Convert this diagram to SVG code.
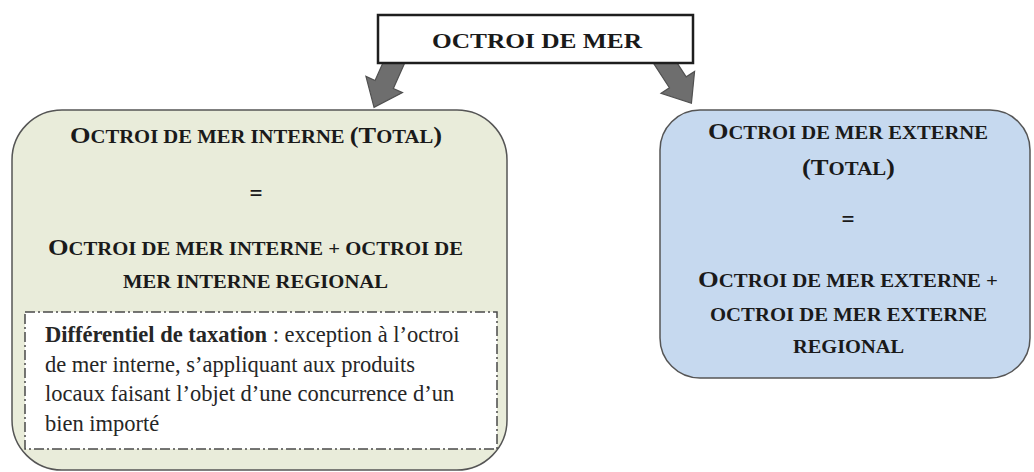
<svg xmlns="http://www.w3.org/2000/svg" width="1034" height="472" viewBox="0 0 1034 472">
<style>
.h{font-family:"Liberation Serif","Times New Roman",serif;font-weight:bold;fill:#1a1a1a;text-anchor:middle}
.b{font-size:23px}
.s{font-size:18px}
.body{font-family:"Liberation Serif","Times New Roman",serif;font-size:22.5px;fill:#262626}
.arrow{fill:#6e6e6e;stroke:#505050;stroke-width:1.2}
</style>
<defs>
<polygon id="blockArrow" points="-10,0 10,0 10,29 20,29 0,54 -20,29 -10,29"/>
</defs>
<rect width="1034" height="472" fill="#ffffff"/>
<g id="connectors">
<use href="#blockArrow" class="arrow" transform="translate(396,58) rotate(24)"/>
<use href="#blockArrow" class="arrow" transform="translate(662,58) rotate(-33)"/>
</g>
<g id="node-top">
<rect x="378" y="15" width="315" height="48" fill="#ffffff" stroke="#1e1e1e" stroke-width="2.5"/>
<text class="h" x="537" y="48" font-size="21.5" textLength="210" lengthAdjust="spacingAndGlyphs">OCTROI DE MER</text>
</g>
<g id="node-interne">
<rect x="12" y="110" width="495" height="360" rx="50" ry="50" fill="#e9ecda" stroke="#555" stroke-width="1.5"/>
<text class="h" x="256" y="143" textLength="372" lengthAdjust="spacingAndGlyphs"><tspan class="b">O</tspan><tspan class="s">CTROI DE MER INTERNE </tspan><tspan class="b">(T</tspan><tspan class="s">OTAL</tspan><tspan class="b">)</tspan></text>
<text class="h b" x="256" y="201">=</text>
<text class="h" x="255.5" y="255" textLength="415" lengthAdjust="spacingAndGlyphs"><tspan class="b">O</tspan><tspan class="s">CTROI DE MER INTERNE + OCTROI DE</tspan></text>
<text class="h s" x="255.5" y="288" textLength="265" lengthAdjust="spacingAndGlyphs">MER INTERNE REGIONAL</text>
<g id="node-differentiel">
<rect x="25" y="312" width="472" height="137" fill="#ffffff" stroke="#4a4a4a" stroke-width="1.5" stroke-dasharray="10 3 2 3"/>
<text class="body" x="45" y="342"><tspan font-weight="bold">Différentiel de taxation</tspan> :  exception à l’octroi</text>
<text class="body" x="45" y="371.5">de mer interne, s’appliquant aux produits</text>
<text class="body" x="45" y="401">locaux faisant l’objet d’une concurrence d’un</text>
<text class="body" x="45" y="431">bien importé</text>
</g>
</g>
<g id="node-externe">
<rect x="660" y="110" width="370" height="268" rx="40" ry="40" fill="#c6d9ef" stroke="#555" stroke-width="1.5"/>
<text class="h" x="848" y="139" textLength="280" lengthAdjust="spacingAndGlyphs"><tspan class="b">O</tspan><tspan class="s">CTROI DE MER EXTERNE</tspan></text>
<text class="h" x="848.5" y="175" textLength="93" lengthAdjust="spacingAndGlyphs"><tspan class="b">(T</tspan><tspan class="s">OTAL</tspan><tspan class="b">)</tspan></text>
<text class="h b" x="848" y="227">=</text>
<text class="h" x="848" y="287" textLength="300" lengthAdjust="spacingAndGlyphs"><tspan class="b">O</tspan><tspan class="s">CTROI DE MER EXTERNE +</tspan></text>
<text class="h s" x="848.5" y="321" textLength="277" lengthAdjust="spacingAndGlyphs">OCTROI DE MER EXTERNE</text>
<text class="h s" x="848.5" y="353" textLength="111" lengthAdjust="spacingAndGlyphs">REGIONAL</text>
</g>
</svg>
